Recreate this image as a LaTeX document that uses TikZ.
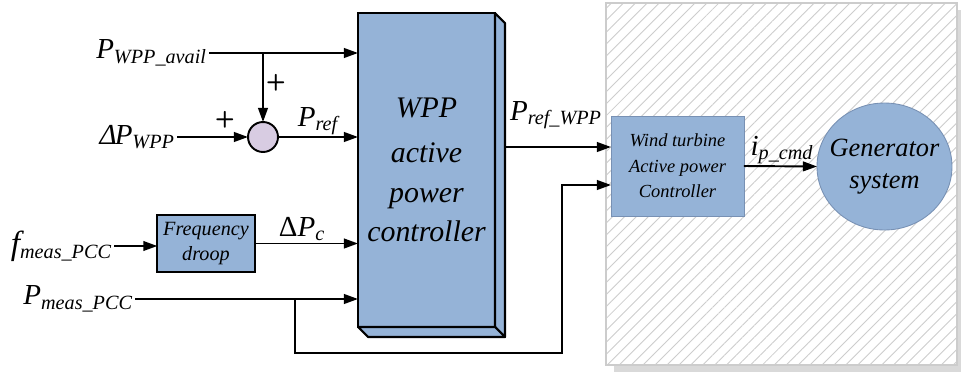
\documentclass[tikz,border=0pt]{standalone}
\usepackage{fontspec}
\setmainfont{Liberation Serif}
\usepackage{xcolor}
\usetikzlibrary{positioning,shapes.geometric,arrows.meta,calc,patterns.meta}
\definecolor{blkblue}{RGB}{149,179,215}
\definecolor{blkedge}{RGB}{120,145,180}
\definecolor{sumlilac}{RGB}{216,204,226}
\definecolor{hatchgray}{RGB}{205,205,205}
\newcommand{\sigtxt}[2]{#1\textsubscript{\fontsize{11.5}{12}\selectfont #2}}

\begin{document}
\begin{tikzpicture}[x=0.02cm,y=-0.02cm,
    blk/.style={draw=black, line width=1.2pt, fill=blkblue, outer sep=0pt, align=center, font=\itshape\fontsize{11.5}{14}\selectfont},
    mainblk/.style={blk, font=\itshape\fontsize{17}{22.5}\selectfont},
    wtblk/.style={draw=blkedge, line width=0.5pt, fill=blkblue, outer sep=0pt, align=center, font=\itshape\fontsize{10.5}{14.5}\selectfont},
    genblk/.style={ellipse, draw=blkedge, line width=0.5pt, fill=blkblue, outer sep=0pt, inner sep=0pt},
    gentxt/.style={align=center, font=\itshape\fontsize{15}{18}\selectfont},
    sumnode/.style={circle, draw=black, line width=1.1pt, fill=sumlilac, minimum size=0.6cm, inner sep=0pt, outer sep=0pt},
    lbl/.style={font=\itshape\fontsize{16.5}{18}\selectfont, inner sep=1pt},
    plus/.style={font=\sffamily\bfseries\fontsize{13}{13}\selectfont, inner sep=0pt},
    sig/.style={line width=1.1pt, -{Triangle[length=8pt,width=5.5pt]}}
  ]
  \useasboundingbox (0,0) rectangle (961,376);

  % turbine side (hatched area)
  \fill[gray!30] (614,10) rectangle (961,372);
  \fill[white] (606,3) rectangle (957,365);
  \fill[pattern={Lines[angle=45,distance=4.8pt,line width=0.5pt]}, pattern color=hatchgray] (606,3) rectangle (957,365);
  \draw[gray!40, line width=0.6pt] (606,3) rectangle (957,365);

  % WPP controller block with depth
  \node[mainblk, minimum width=2.74cm, minimum height=6.28cm] (wpp) at (426.5,170) {WPP\\[3pt]active\\power\\controller};
  \filldraw[fill=blkblue, draw=black, line width=1.2pt, line join=round]
    (wpp.north east) -- ++(10,10) -- ++(0,314) -- (wpp.south east) -- cycle;
  \filldraw[fill=blkblue, draw=black, line width=1.2pt, line join=round]
    (wpp.south west) -- ++(10,10) -- ++(137,0) -- (wpp.south east) -- cycle;

  \node[blk, minimum width=1.84cm, minimum height=1.14cm] (fd) at (206,243.5) {Frequency\\droop};
  \node[sumnode] (sum) at (263,137) {};
  \node[wtblk, minimum width=2.66cm, minimum height=2.0cm] (wt) at (677.5,166) {Wind turbine\\Active power\\Controller};
  \node[genblk, minimum width=2.7cm, minimum height=2.54cm] (gen) at (884.5,166.5) {};
  \node[gentxt] (gentext) at (gen) {Generator\\system};

  % input signals
  \node[lbl, anchor=east] (pavail) at (209,53) {\sigtxt{P}{WPP\_avail}};
  \node[lbl, anchor=east] (dpwpp) at (177,137) {\sigtxt{Δ\kern-1pt P}{WPP}};
  \node[lbl, anchor=east, font=\itshape\fontsize{19}{20}\selectfont] (fmeas) at (114,246) {\sigtxt{f}{meas\_PCC}};
  \node[lbl, anchor=east] (pmeas) at (135,299) {\sigtxt{P}{meas\_PCC}};

  \draw[sig] (pavail.east) -- (pavail.east -| wpp.west);
  \draw[sig] (pavail.east -| sum.north) -- (sum.north);
  \draw[sig] (dpwpp.east) -- (sum.west);
  \draw[sig] (sum.east) -- (sum.east -| wpp.west);
  \draw[sig] (fmeas.east) -- (fmeas.east -| fd.west);
  \draw[sig] (fd.east) -- (fd.east -| wpp.west);
  \draw[sig] (pmeas.east) -- (pmeas.east -| wpp.west);

  \node[plus] (plusa) at (276,83) {+};
  \node[plus] (plusb) at (225,120) {+};
  \node[lbl] (pref) at (318,121) {\sigtxt{P}{ref}};
  \node[lbl] (dpc) at (302,229) {\sigtxt{\textup{Δ}P}{c}};

  % outputs and measured power feedback
  \coordinate (wppout) at (505,147);
  \coordinate (loopx) at (295,353);
  \coordinate (loopup) at (562,353);
  \coordinate (loopin) at (562,185);
  \draw[sig] (wppout) -- (wppout -| wt.west);
  \draw[sig, line join=miter] (pmeas.east -| loopx) -- (loopx) -- (loopup) -- (loopin) -- (loopin -| wt.west);
  \draw[sig] (wt.east) -- (gen.west);

  \node[lbl] (prefwpp) at (556,115) {\sigtxt{P}{ref\_WPP}};
  \node[lbl] (ipcmd) at (782,150) {\sigtxt{i}{p\_cmd}};
\end{tikzpicture}
\end{document}
